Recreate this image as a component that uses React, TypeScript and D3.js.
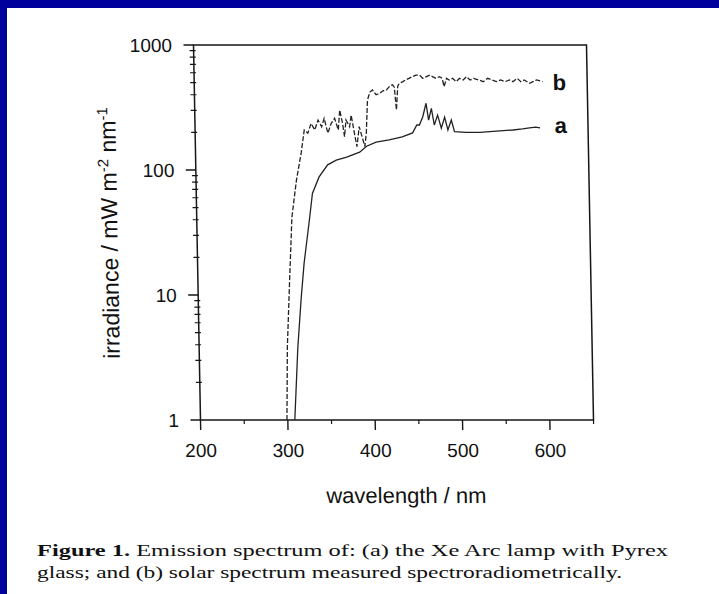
import React from "react";
import * as d3 from "d3";

const W = 719;
const H = 594;

// curve a: Xe arc lamp with Pyrex glass (solid)
const aWave = [308, 313, 318, 322, 329, 333, 341, 351, 361, 373, 388, 396, 407, 422, 437, 449, 454, 457, 461, 465, 467.6, 471, 474, 478, 482, 486, 489.5, 493.6, 497, 510, 526, 545, 564, 575, 583, 590, 595];
const aVal = [1, 3.8, 9.6, 18, 40, 65, 88, 110, 120, 127, 139, 155, 167, 174, 184, 198, 229, 229, 267, 342, 251, 311, 229, 275, 216, 265, 209, 251, 203, 200, 200, 205, 209, 213, 217, 220, 217];

// curve b: solar spectrum (dashed)
const bWave = [299, 301, 305, 309, 315, 321, 325, 329, 333, 337, 341, 345, 348, 352, 356, 360, 364, 366, 369, 371, 373, 377, 379, 383, 385, 388, 392, 394, 396, 398, 401, 404, 408, 412, 416, 420, 424, 427, 429, 431, 433, 435, 439, 442, 446, 450, 454, 458, 462, 466, 470, 473, 477, 481, 484, 486, 489, 492, 496, 500, 504, 508, 512, 516, 520, 526, 531, 536, 541, 546, 551, 556, 561, 565, 570, 574, 578, 584, 588, 592, 599];
const bVal = [1, 3.8, 13, 42, 83, 137, 209, 197, 236, 209, 251, 222, 259, 197, 236, 259, 209, 302, 236, 185, 251, 222, 275, 185, 154, 222, 174, 154, 197, 363, 420, 437, 400, 409, 430, 437, 470, 480, 460, 302, 470, 494, 509, 525, 541, 558, 575, 575, 541, 558, 575, 558, 541, 558, 541, 464, 541, 525, 541, 509, 541, 525, 558, 525, 541, 525, 509, 541, 525, 509, 525, 509, 525, 509, 541, 509, 525, 494, 509, 525, 509];

const xTicks = [200, 300, 400, 500, 600];
const xMinor = [250, 350, 450, 550, 650];
const yTicks = [1, 10, 100, 1000];

const BLUE = "#00009c";
const INK = "#161616";
const SANS = "'Liberation Sans', Arial, sans-serif";
const SERIF = "'Liberation Serif', 'Times New Roman', serif";

export default function App() {
  const x = d3.scaleLinear().domain([200, 650]).range([200.5, 593.5]);
  const y = d3.scaleLog().domain([1, 1000]).range([420, 45]);
  const line = d3
    .line<[number, number]>()
    .x((d) => x(d[0]))
    .y((d) => y(d[1]));
  const aPts: [number, number][] = aWave.map((w, i) => [w, aVal[i]]);
  const bPts: [number, number][] = bWave.map((w, i) => [w, bVal[i]]);

  const yMinor: number[] = [];
  for (let dec = 1; dec < 1000; dec *= 10) {
    for (let k = 2; k <= 9; k++) yMinor.push(dec * k);
  }

  const shear = `translate(0,420) skewX(1.07) translate(0,-420)`;
  const x0 = x(200);

  return (
    <svg
      width={W}
      height={H}
      viewBox={`0 0 ${W} ${H}`}
      style={{ position: "absolute", left: 0, top: 0, display: "block" }}
    >
      <rect x={0} y={0} width={W} height={H} fill="#ffffff" />
      <rect x={0} y={0} width={W} height={8} fill={BLUE} />
      <rect x={0} y={0} width={7} height={H} fill={BLUE} />

      <g transform={shear}>
        {/* frame */}
        <path
          d={`M${x0},${y(1)} L${x0},${y(1000)} L${x(650)},${y(1000)} L${x(650)},${y(1)} L${x0},${y(1)}`}
          fill="none"
          stroke={INK}
          strokeWidth={1.5}
        />
        {/* y major ticks */}
        {yTicks.map((t) => (
          <g key={"yt" + t}>
            <line x1={x0 - 10} x2={x0} y1={y(t)} y2={y(t)} stroke={INK} strokeWidth={1.4} />
            <text
              x={179}
              y={y(t)}
              dy="0.36em"
              textAnchor="end"
              fontFamily={SANS}
              fontSize={19}
              fill="#111"
            >
              {t}
            </text>
          </g>
        ))}
        {yMinor.map((t) => (
          <line key={"ym" + t} x1={x0 - 4} x2={x0 + 2} y1={y(t)} y2={y(t)} stroke={INK} strokeWidth={1.2} />
        ))}
        {/* x ticks */}
        {xTicks.map((t) => (
          <g key={"xt" + t}>
            <line x1={x(t)} x2={x(t)} y1={y(1)} y2={y(1) + 10} stroke={INK} strokeWidth={1.4} />
            <text
              x={x(t)}
              y={457}
              textAnchor="middle"
              fontFamily={SANS}
              fontSize={19}
              fill="#111"
            >
              {t}
            </text>
          </g>
        ))}
        {xMinor.map((t) => (
          <line key={"xm" + t} x1={x(t)} x2={x(t)} y1={y(1)} y2={y(1) + 4} stroke={INK} strokeWidth={1.2} />
        ))}

        {/* curves */}
        <path d={line(bPts) || ""} fill="none" stroke="#222" strokeWidth={1.3} strokeDasharray="5,2" />
        <path d={line(aPts) || ""} fill="none" stroke="#222" strokeWidth={1.3} />

        <text x={559} y={90} fontFamily={SANS} fontSize={22} fontWeight="bold" fill="#111">
          b
        </text>
        <text x={560} y={133} fontFamily={SANS} fontSize={22} fontWeight="bold" fill="#111">
          a
        </text>

        {/* axis titles */}
        <text x={405} y={503} textAnchor="middle" fontFamily={SANS} fontSize={22} fill="#111">
          wavelength / nm
        </text>
        <text
          transform={`translate(121,233) rotate(-90)`}
          textAnchor="middle"
          fontFamily={SANS}
          fontSize={23}
          fill="#111"
        >
          irradiance / mW m
          <tspan dy={-8} fontSize={15}>-2</tspan>
          <tspan dy={8}> nm</tspan>
          <tspan dy={-8} fontSize={15}>-1</tspan>
        </text>
      </g>

      {/* caption */}
      <text x={37} y={556} fontFamily={SERIF} fontSize={17} fill="#111" textLength={631} lengthAdjust="spacingAndGlyphs">
        <tspan fontWeight="bold">Figure 1.</tspan> Emission spectrum of: (a) the Xe Arc lamp with Pyrex
      </text>
      <text x={37} y={578} fontFamily={SERIF} fontSize={17} fill="#111" textLength={585} lengthAdjust="spacingAndGlyphs">
        glass; and (b) solar spectrum measured spectroradiometrically.
      </text>
    </svg>
  );
}
